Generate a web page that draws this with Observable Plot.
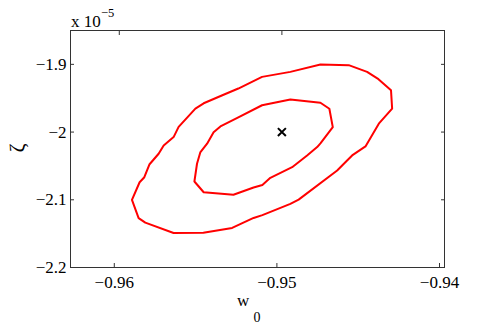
<!DOCTYPE html>
<html><head><meta charset="utf-8">
<script src="https://cdn.jsdelivr.net/npm/d3@7"></script>
<script src="https://cdn.jsdelivr.net/npm/@observablehq/plot@0.6"></script>
<style>
body{margin:0;background:#fff;}
#wrap{width:491px;height:327px;}
#wrap svg text{font-family:"Liberation Serif","Times New Roman",Times,serif;}
</style></head><body><div id="wrap"></div>
<script>
// zeta values are in units of 1e-5
const outerX = [-0.95922,-0.95875,-0.95846,-0.95815,-0.95758,-0.95727,-0.95666,-0.95635,-0.95532,-0.95481,-0.95366,-0.95268,-0.95122,-0.94948,-0.94763,-0.94589,-0.94476,-0.94406,-0.94329,-0.94322,-0.94404,-0.94468,-0.94486,-0.94568,-0.94599,-0.94660,-0.94897,-0.94948,-0.95120,-0.95174,-0.95306,-0.95483,-0.95666,-0.95840,-0.95881];
const outerY = [-2.100,-2.0741,-2.0667,-2.0479,-2.0320,-2.0197,-2.0074,-1.9923,-1.9653,-1.9575,-1.9456,-1.9357,-1.9185,-1.9111,-1.9001,-1.9012,-1.9111,-1.9219,-1.9382,-1.9653,-1.9876,-2.0138,-2.0212,-2.0345,-2.0419,-2.0567,-2.0997,-2.1061,-2.1227,-2.1268,-2.1416,-2.1486,-2.1490,-2.1338,-2.1271];
const innerX = [-0.95538,-0.95522,-0.95502,-0.95460,-0.95420,-0.95378,-0.95268,-0.95122,-0.94948,-0.94763,-0.94708,-0.94687,-0.94763,-0.94783,-0.94845,-0.94937,-0.95071,-0.95120,-0.95174,-0.95298,-0.95481];
const innerY = [-2.0730,-2.0468,-2.0301,-2.0172,-2.0004,-1.9916,-1.9782,-1.9604,-1.9519,-1.9567,-1.9656,-1.9926,-2.0167,-2.0222,-2.0345,-2.0519,-2.0676,-2.0782,-2.0819,-2.0926,-2.0889];
const bestFit = [{w0: -0.95, zeta: -2.0}];
const xTicks = [-0.96, -0.95, -0.94];
const yTicks = [-2.2, -2.1, -2.0, -1.9];
const xDomain = [-0.963, -0.94];
const yDomain = [-2.2, -1.85];

function closed(xs, ys, level) {
  const r = xs.map((x, i) => ({level, w0: x, zeta: ys[i]}));
  r.push({...r[0]});
  return r;
}
const rows = [...closed(outerX, outerY, "outer"), ...closed(innerX, innerY, "inner")];
const fmt = d3.format("~g");
const axisColor = "#333";
const ff = "Liberation Serif, Times New Roman, serif";
const tickFont = {fontFamily: ff, fontSize: 17, fill: "#000"};

const chart = Plot.plot({
  width: 491, height: 327,
  marginLeft: 70, marginRight: 47, marginTop: 30, marginBottom: 60,
  style: {fontFamily: ff, fontSize: "17px", color: "#000", background: "#fff"},
  x: {domain: xDomain},
  y: {domain: yDomain},
  marks: [
    Plot.line(rows, {x: "w0", y: "zeta", z: "level", stroke: "#ff0000", strokeWidth: 2}),
    Plot.dot(bestFit, {x: "w0", y: "zeta", symbol: "times", r: 3.7, stroke: "#000", strokeWidth: 2}),
    Plot.frame({stroke: axisColor}),
    Plot.axisX(xTicks, {anchor: "bottom", tickSize: -4, tickPadding: 12, dx: -5, tickFormat: fmt, label: null, stroke: axisColor, ...tickFont}),
    Plot.axisX(xTicks, {anchor: "top", tickSize: -4, tickFormat: () => "", label: null, stroke: axisColor}),
    Plot.axisY(yTicks, {anchor: "left", tickSize: -4, tickPadding: 8, tickFormat: fmt, label: null, stroke: axisColor, ...tickFont}),
    Plot.axisY(yTicks, {anchor: "right", tickSize: -4, tickFormat: () => "", label: null, stroke: axisColor})
  ]
});

const svg = d3.select(chart);
// exponent label
const ex = svg.append("text").attr("x", 71).attr("y", 27.3).attr("text-anchor", "start").attr("font-size", 17).attr("fill", "#000");
ex.append("tspan").text("x 10");
ex.append("tspan").attr("x", 101).attr("y", 17.3).attr("font-size", 12.5).text("\u22125");
// x label
const xl = svg.append("text").attr("x", 237).attr("y", 306).attr("text-anchor", "start").attr("font-size", 17).attr("fill", "#000");
xl.append("tspan").text("w");
xl.append("tspan").attr("x", 253.5).attr("y", 322).attr("font-size", 14).text("0");
// y label
svg.append("text").attr("transform", "translate(24,148) rotate(-90)").attr("text-anchor", "middle")
  .attr("font-size", 22).attr("fill", "#000").text("\u03b6");

document.getElementById("wrap").appendChild(chart);
</script>
</body></html>
